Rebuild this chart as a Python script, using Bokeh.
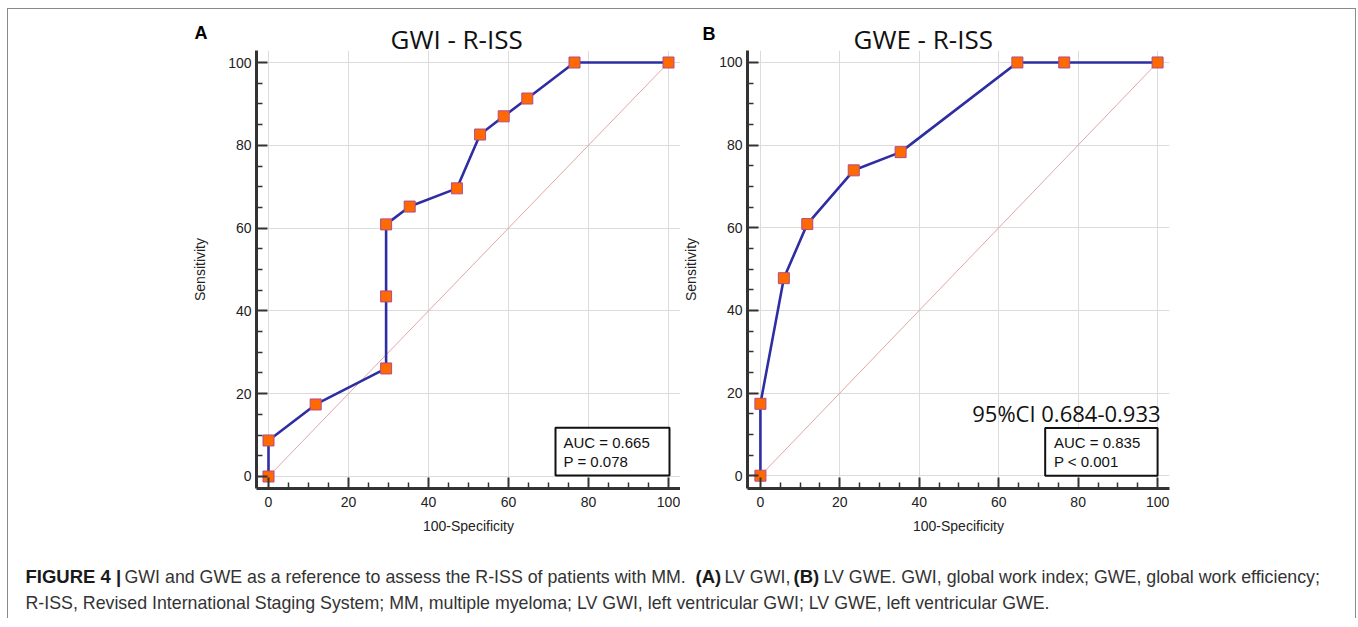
from bokeh.plotting import figure
from bokeh.models import Range1d, Label, BoxAnnotation, FixedTicker, ColumnDataSource, Spacer
from bokeh.layouts import row, column
from bokeh.core.properties import value
from bokeh.embed import file_html
from bokeh.resources import INLINE

# ---------------- data ----------------
gwi_fpr = [0, 0, 11.8, 29.4, 29.4, 29.4, 35.3, 47.1, 52.9, 58.8, 64.7, 76.5, 100]
gwi_tpr = [0, 8.7, 17.4, 26.1, 43.5, 60.9, 65.2, 69.6, 82.6, 87.0, 91.3, 100, 100]
gwe_fpr = [0, 0, 5.9, 11.8, 23.5, 35.3, 64.7, 76.5, 100]
gwe_tpr = [0, 17.4, 47.8, 60.9, 73.9, 78.3, 100, 100, 100]
diag = [0, 100]
major_ticks = [0, 20, 40, 60, 80, 100]
minor_ticks = [v for v in range(0, 101, 5) if v % 20 != 0]

panel_letters = ["A", "B"]
titles = ["GWI - R-ISS", "GWE - R-ISS"]
stats_a = ["AUC = 0.665", "P = 0.078"]
stats_b = ["AUC = 0.835", "P < 0.001"]
ci_b = "95%CI 0.684-0.933"
x_label = "100-Specificity"
y_label = "Sensitivity"

cap_bold = ["FIGURE 4 |", "(A)", "(B)"]
cap_regular = ["GWI and GWE as a reference to assess the R-ISS of patients with MM.",
               "LV GWI,",
               "LV GWE. GWI, global work index; GWE, global work efficiency;",
               "R-ISS, Revised International Staging System; MM, multiple myeloma; LV GWI, left ventricular GWI; LV GWE, left ventricular GWE."]

AX = "#333333"
SANS = "Liberation Sans"
OPEN = "Open Sans"
TOTAL_W = 1347
OVERLAP = 12


def roc_panel(fpr, tpr, width, height, mb_left, mb_right, mb_top, mb_bottom,
              xr, yr):
    p = figure(width=width, height=height, output_backend="svg", title=None,
               toolbar_location=None, x_range=Range1d(*xr), y_range=Range1d(*yr),
               min_border_left=mb_left, min_border_right=mb_right,
               min_border_top=mb_top, min_border_bottom=mb_bottom)
    p.outline_line_color = None
    p.background_fill_color = "white"
    p.border_fill_color = None
    for ax in (p.xaxis[0], p.yaxis[0]):
        ax.ticker = FixedTicker(ticks=major_ticks, minor_ticks=minor_ticks)
        ax.axis_line_width = 3
        ax.axis_line_color = AX
        ax.major_tick_in = 11
        ax.major_tick_out = 0
        ax.minor_tick_in = 6
        ax.minor_tick_out = 0
        ax.major_tick_line_width = 2
        ax.major_tick_line_color = AX
        ax.minor_tick_line_width = 1.5
        ax.minor_tick_line_color = AX
        ax.major_label_text_font = SANS
        ax.major_label_text_font_size = "14px"
        ax.major_label_text_color = "#222222"
        ax.axis_label_text_font = SANS
        ax.axis_label_text_font_size = "14px"
        ax.axis_label_text_font_style = "normal"
        ax.axis_label_text_color = "#222222"
    p.xaxis.axis_label = x_label
    p.yaxis.axis_label = y_label
    p.xaxis.major_label_standoff = 8
    p.xaxis.axis_label_standoff = 8
    p.yaxis.major_label_standoff = 5
    p.yaxis.axis_label_standoff = 17
    p.grid.ticker = FixedTicker(ticks=major_ticks)
    p.grid.grid_line_color = "#dcdcdc"
    p.grid.grid_line_width = 1

    p.line(diag, diag, line_color="#e2a6a6", line_width=1)
    src = ColumnDataSource(dict(x=fpr, y=tpr))
    p.line("x", "y", source=src, line_color="#2e2ea2", line_width=2.6)
    p.scatter("x", "y", source=src, marker="square", size=11,
              fill_color="#ff6a00", line_color="#b04a90", line_width=1)
    return p


# Header with panel letters and titles (pixel coordinates, y downward)
HH = 38 + OVERLAP
ph = figure(width=TOTAL_W, height=HH, output_backend="svg", toolbar_location=None,
            title=None, x_range=Range1d(0, TOTAL_W), y_range=Range1d(HH, 0),
            x_axis_type=None, y_axis_type=None, min_border=0,
            min_border_left=0, min_border_right=0, min_border_top=0, min_border_bottom=0)
ph.grid.visible = False
ph.outline_line_color = None
ph.background_fill_color = None
ph.border_fill_color = None
ph.text([186, 694], [23.5, 24], text=panel_letters, text_font=value(SANS),
        text_font_size="18px", text_font_style="bold", text_color="#000000",
        text_baseline="middle")
ph.text([382, 845], [29, 29], text=titles, text_font=value(OPEN),
        text_font_size="26px", text_color="#111111", text_baseline="middle")

# Panel A
pA = roc_panel(gwi_fpr, gwi_tpr, 672, 493, 248, 0, 0, 52, (-3, 103), (-2.9, 102.9))
pA.add_layout(BoxAnnotation(left=71.75, right=100.25, bottom=0.24, top=11.75,
                            fill_color="white", fill_alpha=1, line_color="#111111",
                            line_width=2, line_alpha=1))
pA.add_layout(Label(x=73.75, y=8.2, text=stats_a[0], text_font=SANS, text_font_size="15px",
                    text_color="#111111", text_baseline="middle"))
pA.add_layout(Label(x=73.75, y=3.6, text=stats_a[1], text_font=SANS, text_font_size="15px",
                    text_color="#111111", text_baseline="middle"))

# Panel B
pB = roc_panel(gwe_fpr, gwe_tpr, 675, 493, 65, 186, 3, 50, (-3.25, 103), (-3.1, 102.9))
pB.add_layout(BoxAnnotation(left=71.7, right=100.0, bottom=0.0, top=11.57,
                            fill_color="white", fill_alpha=1, line_color="#111111",
                            line_width=2, line_alpha=1))
pB.add_layout(Label(x=73.9, y=7.95, text=stats_b[0], text_font=SANS, text_font_size="15px",
                    text_color="#111111", text_baseline="middle"))
pB.add_layout(Label(x=73.9, y=3.4, text=stats_b[1], text_font=SANS, text_font_size="15px",
                    text_color="#111111", text_baseline="middle"))
pB.add_layout(Label(x=100.75, y=15.2, text=ci_b, text_font=OPEN, text_font_size="22px",
                    text_color="#111111", text_baseline="middle", text_align="right"))

# Caption (pixel coordinates, y downward)
CH = 78
pc = figure(width=TOTAL_W, height=CH, output_backend="svg", toolbar_location=None,
            title=None, x_range=Range1d(0, TOTAL_W), y_range=Range1d(CH, 0),
            x_axis_type=None, y_axis_type=None,
            min_border=0, min_border_left=0, min_border_right=0,
            min_border_top=0, min_border_bottom=0)
pc.grid.visible = False
pc.outline_line_color = None
pc.border_fill_color = "white"
pc.text([17, 687, 785], [36.3, 36.3, 36.3], text=cap_bold, text_font=value(SANS),
        text_font_size="18.5px", text_font_style="bold", text_color="#1a1a1a",
        text_baseline="middle")
pc.text([116, 716, 815, 17], [36.3, 36.3, 36.3, 62.7], text=cap_regular, text_font=value(SANS),
        text_font_size="17.8px", text_color="#333333", text_baseline="middle")

panels = row(pA, pB, styles={"margin-top": f"-{OVERLAP}px"})
framed = column(ph, panels, pc,
                styles={"border-top": "1px solid #8a8a8a",
                        "border-left": "1px solid #8a8a8a",
                        "border-right": "1px solid #8a8a8a"})
layout = column(Spacer(height=8), row(Spacer(width=7), framed))

open("out.html", "w").write(file_html(layout, INLINE))
